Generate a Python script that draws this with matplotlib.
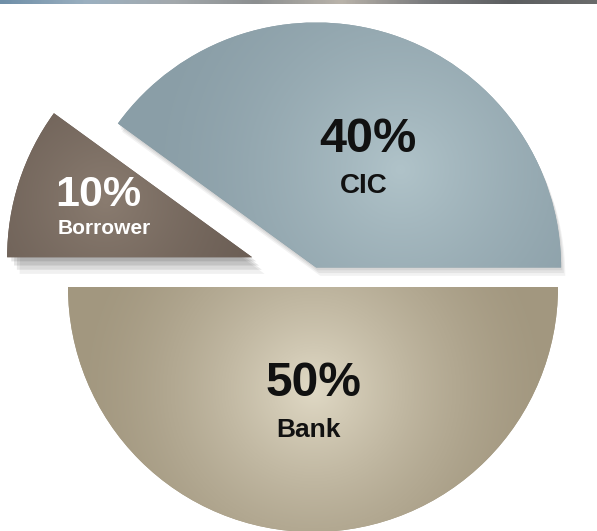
import numpy as np
import matplotlib
matplotlib.use("Agg")
import matplotlib.pyplot as plt
from matplotlib import patheffects as pe
from matplotlib.colors import LinearSegmentedColormap

# ---- data ----
labels = ["CIC", "Borrower", "Bank"]
shares = [40, 10, 50]
pct_labels = ["40%", "10%", "50%"]

# ---- style ----
edge_colors = ["#8a9ea7", "#685b52", "#a2977f"]
center_colors = ["#b0c3c9", "#8a7c70", "#e0d9c5"]
text_colors = ["#111111", "#ffffff", "#111111"]
explode = [10, 64, 10]          # offsets in pixel units (radius=245)
W, H = 597, 531
center = (313, H - 277)
radius = 245

fig = plt.figure(figsize=(W / 100, H / 100), dpi=100)
ax = fig.add_axes([0, 0, 1, 1])

wedges, _ = ax.pie(shares, startangle=0, counterclock=True, explode=explode,
                   center=center, radius=radius, colors=edge_colors,
                   wedgeprops=dict(linewidth=0), frame=True)
ax.set_xlim(0, W)
ax.set_ylim(0, H)
ax.set_aspect("equal")
ax.axis("off")

# soft drop shadows (stacked to imitate blur)
shadow_sets = [
    [((1, -2), 0.06), ((2, -4), 0.06), ((3, -6), 0.05)],
    [((3, -3), 0.10), ((5, -6), 0.10), ((7, -9), 0.09), ((9, -12), 0.06)],
    [],
]
for w, sset in zip(wedges, shadow_sets):
    if sset:
        effs = [pe.SimplePatchShadow(offset=o, shadow_rgbFace="#000000", alpha=a) for o, a in sset]
        w.set_path_effects(effs + [pe.Normal()])

# radial gradient fills, centred near each label
grad_pos = [(400, H - 170), (105, H - 200), (313, H - 390)]
grad_rad = [260, 200, 240]
yy, xx = np.mgrid[0:H, 0:W]
for w, ec, cc, (lx, ly), gr in zip(wedges, edge_colors, center_colors, grad_pos, grad_rad):
    d = np.hypot(xx - lx, (H - 1 - yy) - ly)
    g = np.clip(1 - d / gr, 0, 1) ** 1.5
    cmap = LinearSegmentedColormap.from_list("g", [ec, cc])
    im = ax.imshow(g, cmap=cmap, extent=(0, W, 0, H), origin="upper",
                   vmin=0, vmax=1, zorder=w.get_zorder() + 0.1, interpolation="bilinear")
    im.set_clip_path(w)

# labels
big_sizes = [35, 31, 34.5]
small_sizes = [20, 15, 19]
big_pos = [(368, H - 139), (98, H - 195), (313, H - 384)]
small_pos = [(364, H - 186), (104, H - 229), (308, H - 430)]
for i in range(len(labels)):
    ax.text(*big_pos[i], pct_labels[i], ha="center", va="center",
            fontsize=big_sizes[i], fontweight="bold", family="Liberation Sans",
            color=text_colors[i], zorder=10)
    ax.text(*small_pos[i], labels[i], ha="center", va="center",
            fontsize=small_sizes[i], fontweight="bold", family="Liberation Sans",
            color=text_colors[i], zorder=10)

# thin photo strip at the top of the image
band_cols = ["#6f8fa8", "#9bb0c0", "#a3a9ad", "#8c8f90", "#b9b3aa", "#7a7b7d", "#5c5e60", "#6a6b6b"]
band = LinearSegmentedColormap.from_list("band", band_cols)
ax.imshow(np.linspace(0, 1, 200)[None, :], cmap=band, extent=(0, W, H - 4, H),
          aspect="auto", zorder=20)
ax.set_xlim(0, W)
ax.set_ylim(0, H)

fig.savefig("out.png", dpi=100, facecolor="white")
